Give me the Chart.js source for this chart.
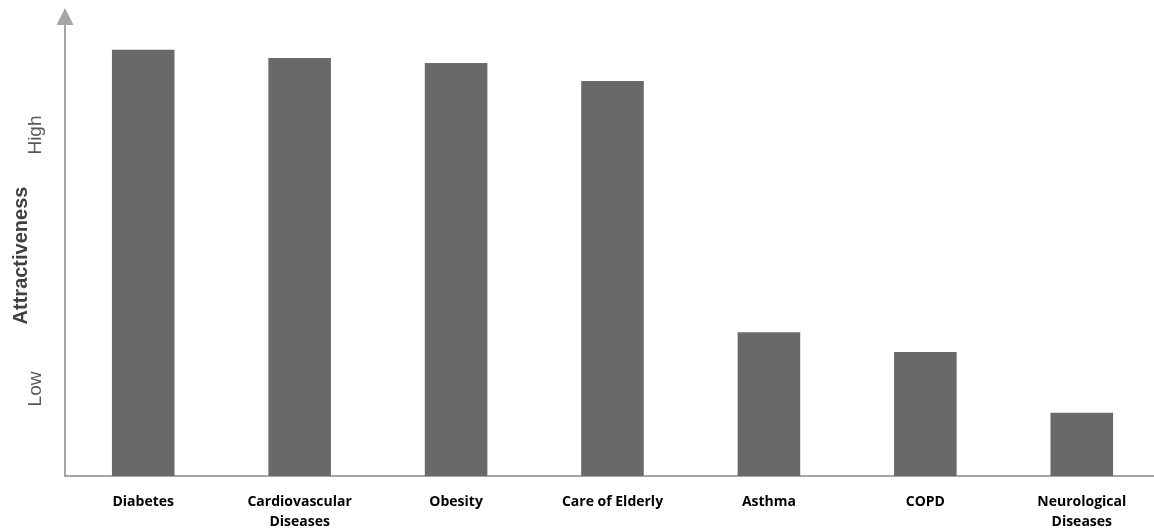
<!DOCTYPE html>
<html>
<head>
<meta charset="utf-8">
<script src="https://cdn.jsdelivr.net/npm/chart.js@4/dist/chart.umd.min.js"></script>
<style>
  html, body { margin: 0; padding: 0; background: #ffffff; overflow: hidden; }
  #wrap { width: 1160px; height: 530px; position: relative; }
</style>
</head>
<body>
<div id="wrap"><canvas id="chart"></canvas></div>
<script>
// Therapeutic areas ranked by attractiveness (relative scale, 0-100)
const categories = [
  ['Diabetes'],
  ['Cardiovascular', 'Diseases'],
  ['Obesity'],
  ['Care of Elderly'],
  ['Asthma'],
  ['COPD'],
  ['Neurological', 'Diseases']
];
const attractiveness = [94.5, 92.7, 91.6, 87.6, 31.9, 27.5, 14.0];

// Qualitative markers on the value axis
const yMarkerLabels = ['Low', 'High'];
const yMarkerValues = [19.3, 75.6];
const yAxisTitle = 'Attractiveness';

const axisColor = '#a6a6a6';
const barColor = '#696969';

// Draws the arrowhead on the value axis, the axis title and the rotated Low/High markers
const axisDecor = {
  id: 'axisDecor',
  afterDraw(chart) {
    const ctx = chart.ctx;
    const area = chart.chartArea;
    const y = chart.scales.y;
    ctx.save();
    // arrowhead
    ctx.fillStyle = axisColor;
    ctx.beginPath();
    ctx.moveTo(area.left, area.top - 17);
    ctx.lineTo(area.left - 8.5, area.top);
    ctx.lineTo(area.left + 8.5, area.top);
    ctx.closePath();
    ctx.fill();
    // axis title
    ctx.fillStyle = '#404040';
    ctx.font = 'bold 20px "Liberation Sans", Arial, sans-serif';
    ctx.textAlign = 'center';
    ctx.textBaseline = 'alphabetic';
    ctx.save();
    ctx.translate(27, (area.top + area.bottom) / 2 + 5);
    ctx.rotate(-Math.PI / 2);
    ctx.fillText(yAxisTitle, 0, 0);
    ctx.restore();
    // markers
    ctx.fillStyle = '#595959';
    ctx.font = '19px "Liberation Sans", Arial, sans-serif';
    ctx.textBaseline = 'middle';
    yMarkerLabels.forEach((label, i) => {
      const py = y.getPixelForValue(yMarkerValues[i]);
      ctx.save();
      ctx.translate(36, py);
      ctx.rotate(-Math.PI / 2);
      ctx.fillText(label, 0, 0);
      ctx.restore();
    });
    ctx.restore();
  }
};

new Chart(document.getElementById('chart'), {
  type: 'bar',
  data: {
    labels: categories,
    datasets: [{
      data: attractiveness,
      backgroundColor: barColor,
      borderWidth: 0,
      barPercentage: 0.4,
      categoryPercentage: 1.0
    }]
  },
  options: {
    responsive: true,
    maintainAspectRatio: false,
    animation: false,
    layout: { padding: { top: 25, right: 0, bottom: 0, left: 0 } },
    plugins: {
      legend: { display: false },
      tooltip: { enabled: false }
    },
    scales: {
      x: {
        grid: { display: false, drawTicks: false },
        border: { display: true, color: axisColor, width: 2 },
        ticks: {
          color: '#000000',
          padding: 16,
          autoSkip: false,
          maxRotation: 0,
          font: { family: '"Open Sans", Lato, sans-serif', weight: 'bold', size: 14, lineHeight: '20px' }
        },
        afterFit(scale) { scale.height = 54; }
      },
      y: {
        min: 0,
        max: 100,
        grid: { display: false, drawTicks: false },
        border: { display: true, color: axisColor, width: 2 },
        ticks: { display: false },
        afterFit(scale) { scale.width = 65; }
      }
    }
  },
  plugins: [axisDecor]
});
</script>
</body>
</html>
